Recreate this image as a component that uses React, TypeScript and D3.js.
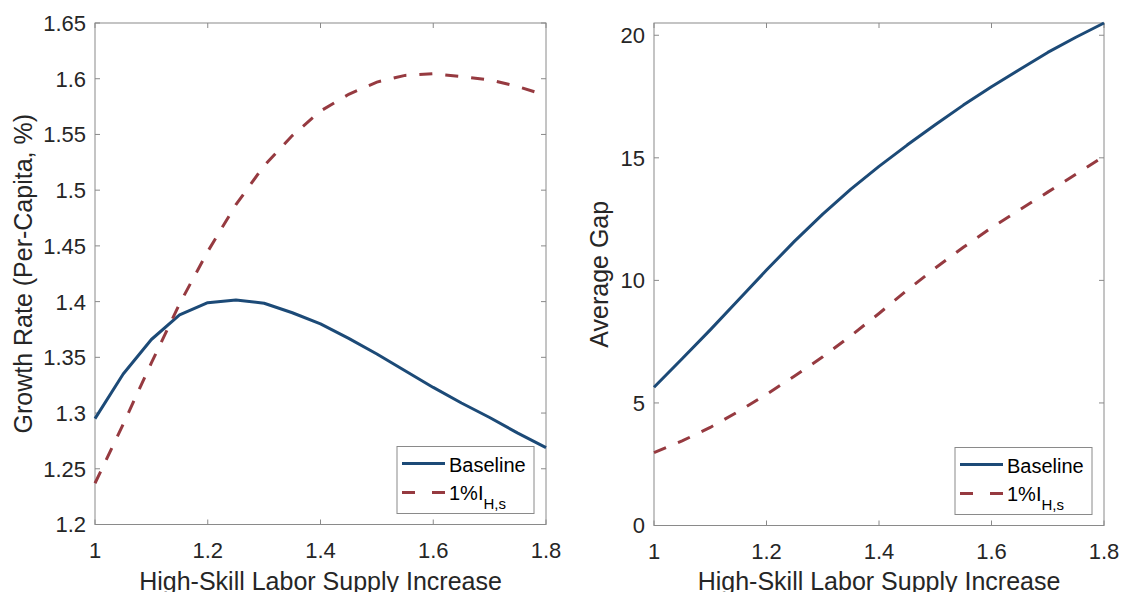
import React from "react";
import * as d3 from "d3";

const xVals = [1, 1.05, 1.1, 1.15, 1.2, 1.25, 1.3, 1.35, 1.4, 1.45, 1.5, 1.55, 1.6, 1.65, 1.7, 1.75, 1.8];
const growthBaseline = [1.295, 1.335, 1.366, 1.388, 1.399, 1.4015, 1.3985, 1.39, 1.38, 1.367, 1.353, 1.338, 1.323, 1.309, 1.296, 1.282, 1.269];
const growthIHs = [1.237, 1.29, 1.345, 1.398, 1.445, 1.487, 1.522, 1.549, 1.571, 1.586, 1.597, 1.603, 1.6045, 1.602, 1.599, 1.593, 1.585];
const gapBaseline = [5.64, 6.8, 7.98, 9.2, 10.42, 11.6, 12.7, 13.72, 14.65, 15.52, 16.35, 17.15, 17.9, 18.6, 19.3, 19.92, 20.5];
const gapIHs = [2.97, 3.45, 4.0, 4.65, 5.35, 6.1, 6.88, 7.74, 8.65, 9.6, 10.5, 11.35, 12.15, 12.88, 13.6, 14.33, 15.06];
const xTicks = [1, 1.2, 1.4, 1.6, 1.8];
const growthTicks = [1.2, 1.25, 1.3, 1.35, 1.4, 1.45, 1.5, 1.55, 1.6, 1.65];
const gapTicks = [0, 5, 10, 15, 20];
const seriesNames = ["Baseline", "1%I"];

const BLUE = "#1c4a77";
const RED = "#963a40";
const AXIS = "#8a8a8a";
const TEXT = "#262626";
const FONT = "'Liberation Sans', Arial, Helvetica, sans-serif";
const DASH = "13,13";

type PanelProps = {
  x0: number; x1: number; y0: number; y1: number;
  yDomain: [number, number]; yTicks: number[];
  ylabel: string; ylabelX: number;
  base: number[]; alt: number[];
};

function Panel({ x0, x1, y0, y1, yDomain, yTicks, ylabel, ylabelX, base, alt }: PanelProps) {
  const x = d3.scaleLinear().domain([1, 1.8]).range([x0, x1]);
  const y = d3.scaleLinear().domain(yDomain).range([y1, y0]);
  const line = d3.line<number>().x((_, i) => x(xVals[i])).y((d) => y(d));
  const fmt = (t: number) => String(+t.toFixed(2));
  const tl = 5;
  const lgW = 137, lgH = 67;
  const lgX = x1 - 12 - lgW;
  const lgY = y1 - 11 - lgH;
  return (
    <g>
      <rect x={x0} y={y0} width={x1 - x0} height={y1 - y0} fill="white" stroke={AXIS} strokeWidth={1} />
      {xTicks.map((t) => (
        <g key={"x" + t}>
          <line x1={x(t)} x2={x(t)} y1={y1} y2={y1 - tl} stroke={AXIS} />
          <line x1={x(t)} x2={x(t)} y1={y0} y2={y0 + tl} stroke={AXIS} />
          <text x={x(t)} y={y1 + 33} textAnchor="middle" fontSize={22} fill={TEXT}>{fmt(t)}</text>
        </g>
      ))}
      {yTicks.map((t) => (
        <g key={"y" + t}>
          <line x1={x0} x2={x0 + tl} y1={y(t)} y2={y(t)} stroke={AXIS} />
          <line x1={x1} x2={x1 - tl} y1={y(t)} y2={y(t)} stroke={AXIS} />
          <text x={x0 - 9} y={y(t)} dy="0.36em" textAnchor="end" fontSize={22} fill={TEXT}>{fmt(t)}</text>
        </g>
      ))}
      <text x={(x0 + x1) / 2} y={590} textAnchor="middle" fontSize={25} fill={TEXT}>High-Skill Labor Supply Increase</text>
      <text transform={`translate(${ylabelX},${(y0 + y1) / 2}) rotate(-90)`} textAnchor="middle" fontSize={25} fill={TEXT}>{ylabel}</text>
      <path d={line(base) || ""} fill="none" stroke={BLUE} strokeWidth={3} strokeLinejoin="round" />
      <path d={line(alt) || ""} fill="none" stroke={RED} strokeWidth={3} strokeDasharray={DASH} />
      <g>
        <rect x={lgX} y={lgY} width={lgW} height={lgH} fill="white" stroke={AXIS} strokeWidth={1} />
        <line x1={lgX + 5} x2={lgX + 48} y1={lgY + 17} y2={lgY + 17} stroke={BLUE} strokeWidth={3} />
        <text x={lgX + 52} y={lgY + 25} fontSize={20} fill="#000">{seriesNames[0]}</text>
        <line x1={lgX + 5} x2={lgX + 48} y1={lgY + 46} y2={lgY + 46} stroke={RED} strokeWidth={3} strokeDasharray="13,17" />
        <text x={lgX + 52} y={lgY + 53} fontSize={20} fill="#000">
          {seriesNames[1]}
          <tspan fontSize={15} dy={9}>H,s</tspan>
        </text>
      </g>
    </g>
  );
}

export default function App() {
  return (
    <svg width={1123} height={592} style={{ position: "absolute", left: 0, top: 0, background: "white" }} fontFamily={FONT}>
      <rect x={0} y={0} width={1123} height={592} fill="white" />
      <Panel x0={95} x1={546} y0={23} y1={524.5} yDomain={[1.2, 1.65]} yTicks={growthTicks}
        ylabel="Growth Rate (Per-Capita, %)" ylabelX={32} base={growthBaseline} alt={growthIHs} />
      <Panel x0={654} x1={1104} y0={23} y1={525.5} yDomain={[0, 20.5]} yTicks={gapTicks}
        ylabel="Average Gap" ylabelX={608} base={gapBaseline} alt={gapIHs} />
    </svg>
  );
}
